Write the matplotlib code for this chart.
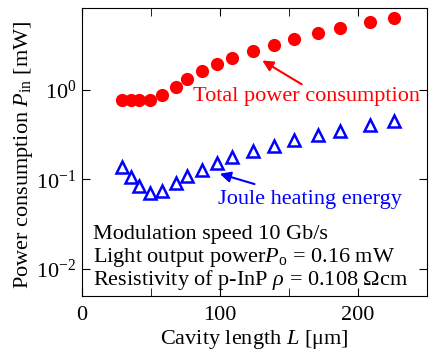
import matplotlib
matplotlib.use('Agg')
import matplotlib.pyplot as plt

plt.rcParams['font.family'] = 'Liberation Serif'
plt.rcParams['mathtext.fontset'] = 'custom'
plt.rcParams['mathtext.rm'] = 'Liberation Serif'
plt.rcParams['mathtext.it'] = 'Liberation Serif:italic'
plt.rcParams['mathtext.default'] = 'regular'

# cavity length [um]
L = [29, 35.5, 41.5, 49, 58, 68, 76, 87, 98, 109, 124, 139, 154, 171, 187, 209, 226]
# total power consumption [mW]
p_total = [0.76, 0.76, 0.76, 0.76, 0.88, 1.07, 1.33, 1.64, 1.95, 2.26, 2.68, 3.18, 3.68, 4.3, 4.84, 5.65, 6.3]
# joule heating energy [mW]
p_joule = [0.139, 0.106, 0.085, 0.070, 0.075, 0.091, 0.109, 0.126, 0.152, 0.18, 0.205, 0.237, 0.272, 0.312, 0.351, 0.406, 0.454]

fs = 16
fig = plt.figure(figsize=(4.29, 3.58), dpi=100)
ax = fig.add_axes([0.191, 0.173, 0.804, 0.805])

ax.plot(L, p_total, 'o', color='red', markersize=9.5, markeredgewidth=0)
ax.plot(L, p_joule, '^', color='blue', markersize=8, markerfacecolor='none', markeredgewidth=1.8)

ax.set_yscale('log')
ax.set_xlim(0, 250)
ax.set_ylim(0.005, 8.2)
ax.set_xticks([0, 100, 200])
ax.set_xticks([50, 150], minor=True)
ax.set_yticks([1e-2, 1e-1, 1e0])
ax.set_yticklabels(['$10^{-2}$', '$10^{-1}$', '$10^{0}$'])
ax.yaxis.set_minor_locator(matplotlib.ticker.NullLocator())
ax.tick_params(which='both', direction='in', top=True, right=True, labelsize=fs, length=6)
ax.tick_params(axis='x', pad=7)
ax.tick_params(axis='y', pad=4)

ax.set_xlabel('Cavity length $\\mathit{L}$ [μm]', fontsize=fs)
ax.set_ylabel('Power consumption $\\mathit{P}_{\\rm in}$ [mW]', fontsize=fs)
ax.xaxis.set_label_coords(0.5, -0.11)
ax.yaxis.set_label_coords(-0.137, 0.49)

ax.annotate('Total power consumption', xy=(129, 2.16), xytext=(80.4, 0.835),
            color='red', fontsize=fs, va='center', ha='left')
ax.annotate('', xy=(129, 2.2), xytext=(161, 1.11),
            arrowprops=dict(arrowstyle='-|>', color='red', lw=1.5, mutation_scale=16))
ax.annotate('Joule heating energy', xy=(98, 0.118), xytext=(98.3, 0.059),
            color='blue', fontsize=fs, va='center', ha='left')
ax.annotate('', xy=(98, 0.118), xytext=(127, 0.087),
            arrowprops=dict(arrowstyle='-|>', color='blue', lw=1.5, mutation_scale=16))

ax.text(0.032, 0.212, 'Modulation speed 10 Gb/s', transform=ax.transAxes, fontsize=fs, va='center')
ax.text(0.032, 0.135, 'Light output power$\\mathit{P}_{\\rm o}$ = 0.16 mW', transform=ax.transAxes, fontsize=fs, va='center')
ax.text(0.032, 0.056, 'Resistivity of p-InP $\\mathit{ρ}$ = 0.108 Ωcm', transform=ax.transAxes, fontsize=fs, va='center')

fig.savefig('out.png', dpi=100)
